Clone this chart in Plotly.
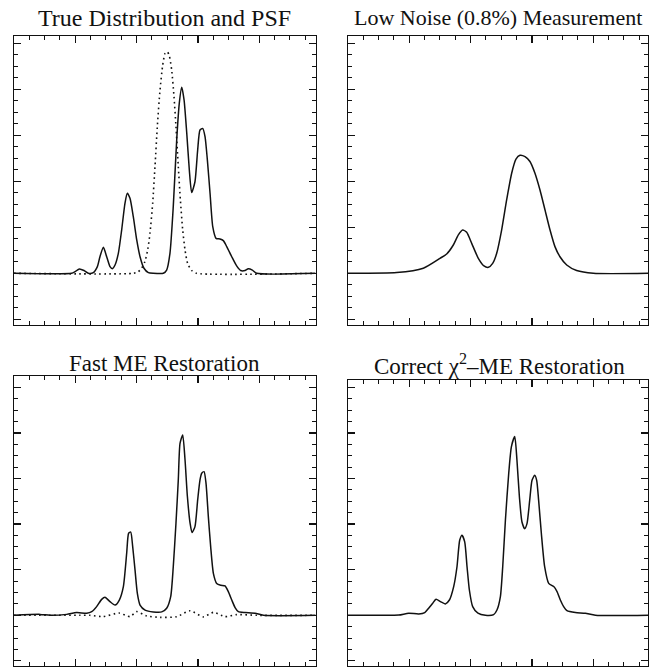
import plotly.graph_objects as go

# ---- data (x in channel units, y in normalised intensity) ----
true_x = [0.0, 47.0, 49.8, 53.3, 57.1, 60.6, 64.7, 68.0, 70.1, 72.9, 75.6, 78.3, 80.2, 82.4, 85.1, 87.8,
          90.5, 92.4, 94.6, 97.3, 100.1, 102.8, 106.0, 109.6, 113.6, 121.8, 124.5, 127.2, 129.9, 132.7,
          134.8, 136.8, 138.7, 140.9, 143.0, 144.9, 147.6, 149.8, 151.7, 153.9, 155.8, 157.7, 159.9,
          162.1, 164.8, 168.0, 170.7, 173.5, 177.6, 181.6, 184.9, 188.4, 191.1, 194.4, 197.9, 246.0]
true_y = [0.0, 0.0, 0.007, 0.019, 0.012, 0.0, 0.003, 0.029, 0.072, 0.113, 0.072, 0.029, 0.020, 0.036,
          0.087, 0.188, 0.304, 0.348, 0.326, 0.246, 0.145, 0.072, 0.022, 0.003, 0.0, 0.0, 0.014, 0.087,
          0.29, 0.58, 0.739, 0.809, 0.754, 0.609, 0.449, 0.351, 0.398, 0.536, 0.623, 0.630, 0.594, 0.493,
          0.348, 0.203, 0.152, 0.149, 0.142, 0.116, 0.072, 0.032, 0.012, 0.012, 0.020, 0.014, 0.0, 0.0]

psf_x = [0.0, 97.3, 101.4, 104.1, 106.8, 109.0, 110.9, 113.1, 115.0, 116.9, 119.1, 121.3, 123.2, 125.1,
         126.7, 128.6, 130.5, 132.1, 134.0, 135.7, 137.6, 139.5, 141.6, 144.9, 148.9, 245.5]
psf_y = [0.0, 0.0, 0.007, 0.022, 0.051, 0.101, 0.174, 0.304, 0.464, 0.638, 0.797, 0.906, 0.956, 0.963,
         0.945, 0.884, 0.768, 0.638, 0.464, 0.319, 0.188, 0.101, 0.043, 0.012, 0.0, 0.0]

meas_x = [0.0, 39.7, 61.4, 75.0, 80.5, 85.9, 90.0, 93.5, 96.8, 100.9, 106.3, 110.9, 114.5, 118.0,
          121.3, 125.3, 129.4, 133.5, 137.0, 140.3, 144.4, 148.4, 152.5, 156.6, 160.7, 164.8, 168.8,
          172.9, 178.4, 186.5, 200.1, 246.0]
meas_y = [0.0, 0.003, 0.022, 0.065, 0.084, 0.123, 0.167, 0.188, 0.178, 0.130, 0.065, 0.032, 0.026,
          0.043, 0.087, 0.188, 0.319, 0.435, 0.496, 0.513, 0.507, 0.486, 0.435, 0.362, 0.275, 0.188,
          0.116, 0.072, 0.036, 0.012, 0.0, 0.0]

fast_x = [0.0, 21.2, 29.4, 43.0, 51.1, 59.3, 63.4, 67.4, 71.5, 74.2, 78.3, 82.4, 85.9, 89.2, 91.9,
          93.5, 95.2, 96.8, 98.7, 100.6, 102.8, 106.9, 113.6, 120.5, 124.5, 127.8, 129.9, 132.1, 134.0,
          135.4, 137.6, 139.5, 141.4, 143.6, 145.2, 147.6, 149.8, 151.7, 153.1, 155.0, 156.6, 158.5,
          160.4, 162.6, 165.3, 168.6, 172.1, 174.8, 177.6, 180.3, 183.0, 188.4, 196.6, 203.4, 246.0]
fast_y = [0.0, 0.004, 0.0, 0.004, 0.012, 0.009, 0.016, 0.038, 0.070, 0.079, 0.060, 0.045, 0.067,
          0.126, 0.272, 0.360, 0.365, 0.301, 0.199, 0.096, 0.045, 0.023, 0.015, 0.015, 0.031, 0.082,
          0.213, 0.404, 0.594, 0.754, 0.791, 0.681, 0.522, 0.404, 0.363, 0.389, 0.506, 0.594, 0.623,
          0.630, 0.579, 0.433, 0.301, 0.184, 0.140, 0.132, 0.129, 0.104, 0.067, 0.034, 0.016, 0.012,
          0.009, 0.0, 0.0]

resid_x = [0.0, 53.8, 62.0, 72.6, 85.6, 94.6, 100.1, 108.2, 119.1, 132.7, 143.6, 154.4, 162.6, 172.1,
           181.6, 198.0, 246.0]
resid_y = [0.0, 0.0, 0.0, -0.006, 0.010, -0.006, 0.016, -0.003, -0.009, -0.006, 0.020, -0.007, 0.013,
           -0.006, 0.003, 0.0, 0.0]

chi_x = [0.0, 25.0, 41.4, 49.5, 57.7, 62.6, 65.8, 69.1, 71.8, 75.4, 79.4, 82.7, 86.2, 88.9, 91.1,
         93.0, 95.2, 97.1, 99.0, 101.7, 106.0, 112.1, 118.8, 121.5, 124.3, 126.2, 128.4, 131.1, 133.3,
         136.0, 137.8, 139.8, 141.9, 144.1, 146.0, 148.2, 150.1, 152.3, 153.9, 155.5, 157.7, 160.4,
         163.7, 167.8, 170.5, 173.2, 175.9, 178.6, 185.5, 193.6, 201.8, 246.0]
chi_y = [0.0, 0.0, 0.001, 0.009, 0.006, 0.012, 0.031, 0.053, 0.070, 0.060, 0.050, 0.067, 0.126, 0.213,
         0.329, 0.351, 0.322, 0.213, 0.111, 0.038, 0.009, 0.0, 0.003, 0.023, 0.082, 0.213, 0.418, 0.623,
         0.740, 0.784, 0.681, 0.520, 0.409, 0.380, 0.402, 0.504, 0.592, 0.614, 0.592, 0.504, 0.360,
         0.213, 0.140, 0.126, 0.104, 0.067, 0.038, 0.020, 0.012, 0.009, 0.0, 0.0]

titles = ["True Distribution and PSF", "Low Noise (0.8%) Measurement",
          "Fast ME Restoration", "Correct χ<sup>2</sup>–ME Restoration"]
title_sizes = [24, 22, 23, 23]

W, H = 654, 669
BLACK = "#111111"
solid = dict(color=BLACK, width=1.5, shape="spline", smoothing=0.6)
dotted = dict(color=BLACK, width=1.6, dash="1.6px,3.4px", shape="spline", smoothing=0.6)

fig = go.Figure()
fig.add_trace(go.Scatter(x=psf_x, y=psf_y, mode="lines", line=dotted, xaxis="x", yaxis="y"))
fig.add_trace(go.Scatter(x=true_x, y=true_y, mode="lines", line=solid, xaxis="x", yaxis="y"))
fig.add_trace(go.Scatter(x=meas_x, y=meas_y, mode="lines", line=solid, xaxis="x2", yaxis="y2"))
fig.add_trace(go.Scatter(x=resid_x, y=resid_y, mode="lines", line=dotted, xaxis="x3", yaxis="y3"))
fig.add_trace(go.Scatter(x=fast_x, y=fast_y, mode="lines", line=solid, xaxis="x3", yaxis="y3"))
fig.add_trace(go.Scatter(x=chi_x, y=chi_y, mode="lines", line=solid, xaxis="x4", yaxis="y4"))


def xdom(a, b):
    return [a / W, b / W]


def ydom(top, bottom):
    return [1 - bottom / H, 1 - top / H]


def xax(dom, rng, anchor):
    return dict(domain=dom, range=rng, anchor=anchor, showgrid=False, zeroline=False,
                showline=True, linecolor=BLACK, linewidth=1.3, mirror="allticks",
                ticks="inside", ticklen=7, tickwidth=1.2, tickcolor=BLACK,
                tick0=0, dtick=50, showticklabels=False, fixedrange=True,
                minor=dict(ticks="inside", ticklen=4, tickwidth=1, tickcolor=BLACK, dtick=12.5,
                           showgrid=False))


def yax(dom, rng, anchor):
    return dict(domain=dom, range=rng, anchor=anchor, showgrid=False, zeroline=False,
                showline=True, linecolor=BLACK, linewidth=1.3, mirror="allticks",
                ticks="inside", ticklen=7, tickwidth=1.2, tickcolor=BLACK,
                tick0=0, dtick=0.2, showticklabels=False, fixedrange=True,
                minor=dict(ticks="inside", ticklen=4, tickwidth=1, tickcolor=BLACK, dtick=0.05,
                           showgrid=False))


left_dom = xdom(14, 315.5)
right_dom = xdom(348, 648)

layout = dict(
    width=W, height=H, margin=dict(l=0, r=0, t=0, b=0),
    paper_bgcolor="white", plot_bgcolor="white", showlegend=False, hovermode=False,
    xaxis=xax(left_dom, [0, 245.9], "y"),
    yaxis=yax(ydom(36, 325), [-0.2248, 1.0317], "x"),
    xaxis2=xax(right_dom, [0, 244.7], "y2"),
    yaxis2=yax(ydom(36, 325), [-0.2248, 1.0317], "x2"),
    xaxis3=xax(left_dom, [0, 245.9], "y3"),
    yaxis3=yax(ydom(376, 666), [-0.2224, 1.0496], "x3"),
    xaxis4=xax(right_dom, [0, 244.7], "y4"),
    yaxis4=yax(ydom(380, 666), [-0.2224, 1.032], "x4"),
)

centers = [(164.5, 18), (498, 18), (164.5, 363), (499.5, 364)]
anns = []
for t, s, (cx, cy) in zip(titles, title_sizes, centers):
    anns.append(dict(text=t, x=cx / W, y=1 - cy / H, xref="paper", yref="paper",
                     xanchor="center", yanchor="middle", showarrow=False,
                     font=dict(family="Liberation Serif", size=s, color=BLACK)))
layout["annotations"] = anns

fig.update_layout(**layout)
# remove the default 8px body margin so the 654x669 figure fills the window exactly
fig.write_html("out.html", config={"displayModeBar": False, "staticPlot": True},
               post_script="document.body.style.margin='0';")
